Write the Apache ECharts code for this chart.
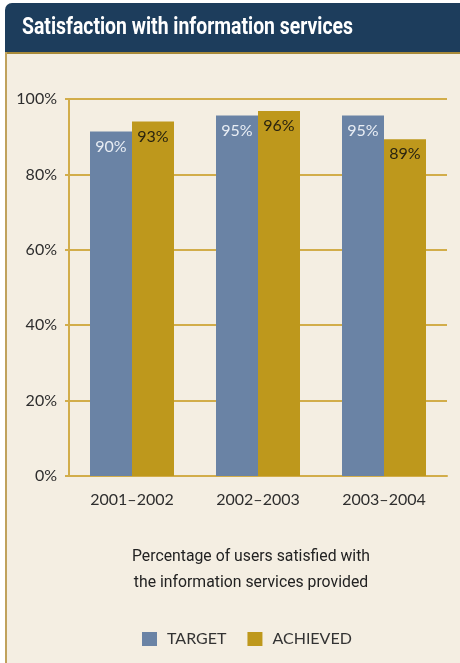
<!DOCTYPE html>
<html><head><meta charset="utf-8">
<script src="https://cdn.jsdelivr.net/npm/echarts@6/dist/echarts.min.js"></script>
<style>html,body{margin:0;padding:0;background:#ffffff;}#c{width:460px;height:663px;}</style>
</head><body><div id="c"></div>
<script>
var categories = ['2001–2002', '2002–2003', '2003–2004'];
var targetValues = [91.4, 95.6, 95.6];
var achievedValues = [94.0, 96.8, 89.3];
var targetLabels = ['90%', '95%', '95%'];
var achievedLabels = ['93%', '96%', '89%'];
var yTicks = [0, 20, 40, 60, 80, 100];
var titleText = 'Satisfaction with information services';
var subtitleLines = ['Percentage of users satisfied with', 'the information services provided'];
var legendNames = ['TARGET', 'ACHIEVED'];

var LIGHT = 'Lato, "Open Sans", sans-serif';
var COND = 'Roboto, "Liberation Sans", sans-serif';

function measure(text, font) {
  var cv = document.createElement('canvas').getContext('2d');
  cv.font = font;
  return cv.measureText(text).width;
}
var titleFont = 'bold 24px ' + COND;
var titleScale = 331 / measure(titleText, titleFont);
var subFont = '17px ' + COND;
var subScale = 238 / measure(subtitleLines[0], subFont);

var chart = echarts.init(document.getElementById('c'), null, {renderer: 'canvas'});
chart.setOption({
  backgroundColor: '#ffffff',
  animation: false,
  graphic: [
    {type: 'rect', z: -10, shape: {x: 5, y: 3, width: 460, height: 670, r: [7, 0, 0, 0]}, style: {fill: '#f4eee2'}},
    {type: 'rect', z: -9, shape: {x: 5, y: 3, width: 460, height: 49, r: [7, 0, 0, 0]}, style: {fill: '#1d3d5c'}},
    {type: 'rect', z: -8, shape: {x: 5, y: 52, width: 460, height: 2}, style: {fill: '#a88a3a'}},
    {type: 'rect', z: -8, shape: {x: 5, y: 52, width: 2, height: 620}, style: {fill: '#c0a25c'}},
    {type: 'text', x: 22, y: 28, scaleX: titleScale, style: {x: 0, y: 0, text: titleText, fill: '#ffffff', font: titleFont, textAlign: 'left', textVerticalAlign: 'middle'}},
    {type: 'text', x: 251, y: 557, scaleX: subScale, style: {x: 0, y: 0, text: subtitleLines[0], fill: '#222222', font: subFont, textAlign: 'center', textVerticalAlign: 'middle'}},
    {type: 'text', x: 251, y: 583, scaleX: subScale, style: {x: 0, y: 0, text: subtitleLines[1], fill: '#222222', font: subFont, textAlign: 'center', textVerticalAlign: 'middle'}}
  ],
  legend: {
    left: 137, top: 626, itemWidth: 15, itemHeight: 14, itemGap: 21,
    icon: 'rect',
    textStyle: {fontFamily: LIGHT, fontWeight: 400, fontSize: 16, color: '#333333', padding: [0, 0, 0, 5]},
    data: legendNames
  },
  grid: {left: 69, right: 13, top: 99, bottom: 187, containLabel: false},
  xAxis: {
    type: 'category', data: categories,
    axisLine: {show: true, lineStyle: {color: '#d2ad4a', width: 2}},
    axisTick: {show: false},
    axisLabel: {fontFamily: LIGHT, fontWeight: 400, fontSize: 16, color: '#2e2e2e', margin: 16}
  },
  yAxis: {
    type: 'value', min: 0, max: 100, interval: 20,
    axisLine: {show: true, lineStyle: {color: '#d2ad4a', width: 2}},
    axisTick: {show: true, length: 4, lineStyle: {color: '#d2ad4a', width: 2}},
    splitLine: {show: true, lineStyle: {color: '#d2ad4a', width: 2}},
    axisLabel: {fontFamily: LIGHT, fontWeight: 400, fontSize: 16, color: '#2e2e2e', margin: 12,
      formatter: function (v) { return yTicks.indexOf(v) >= 0 ? v + '%' : ''; }}
  },
  series: [
    {name: legendNames[0], type: 'bar', data: targetValues, barWidth: 42, barGap: '0%',
      itemStyle: {color: '#6a83a5'},
      label: {show: true, position: 'insideTop', distance: 7, fontFamily: LIGHT, fontWeight: 400, fontSize: 16, color: '#e8edf4',
        formatter: function (p) { return targetLabels[p.dataIndex]; }}},
    {name: legendNames[1], type: 'bar', data: achievedValues, barWidth: 42,
      itemStyle: {color: '#be981c'},
      label: {show: true, position: 'insideTop', distance: 7, fontFamily: LIGHT, fontWeight: 400, fontSize: 16, color: '#2a2410',
        formatter: function (p) { return achievedLabels[p.dataIndex]; }}}
  ]
});
</script></body></html>
